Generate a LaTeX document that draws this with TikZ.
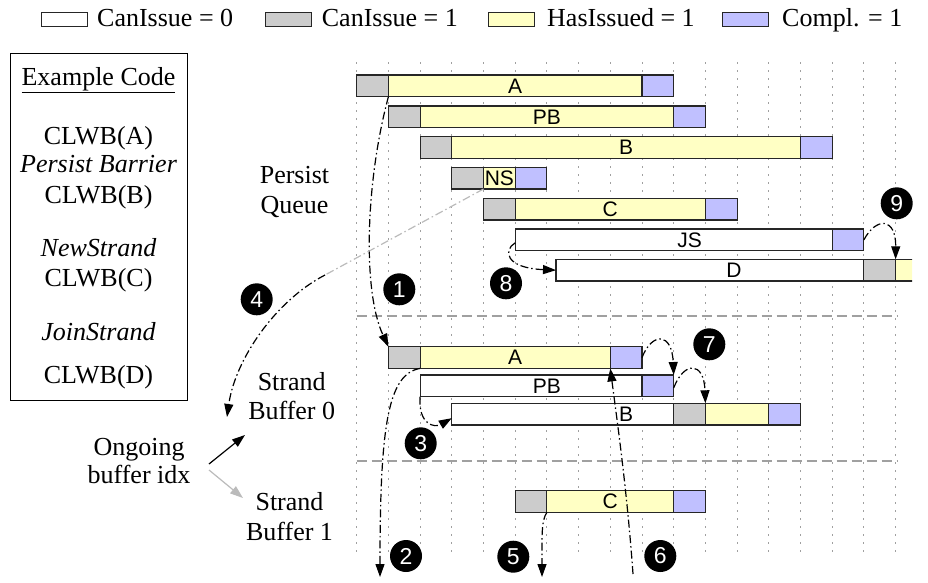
\documentclass[tikz,border=0pt]{standalone}
\usepackage{fontspec}
\setmainfont{Liberation Serif}
\newfontfamily\labelsans{Liberation Sans}
\usetikzlibrary{arrows.meta,calc}

\definecolor{cellgray}{HTML}{CCCCCC}
\definecolor{cellyellow}{HTML}{FFFFC4}
\definecolor{cellblue}{HTML}{C0C0FF}
\definecolor{gridgray}{HTML}{A0A0A0}
\definecolor{pathgray}{HTML}{BBBBBB}

\tikzset{
  cell/.style={draw=black!85, line width=1.1pt, inner sep=0pt, outer sep=0pt,
    minimum height=21.7pt, anchor=north west},
  barlabel/.style={font=\labelsans\fontsize{21}{21}\selectfont, inner sep=0pt},
  serifline/.style={font=\fontsize{26}{29.5}\selectfont, inner sep=0pt, anchor=base},
  badge/.style={circle, fill=black, text=white, minimum size=32pt, inner sep=0pt,
    font=\labelsans\fontsize{23}{23}\selectfont},
  flow/.style={line width=1.2pt, dash pattern=on 8pt off 3pt on 1.5pt off 3pt,
    -{Triangle[length=13pt,width=9pt]}},
  idxarrow/.style={line width=1.2pt, -{Triangle[length=13pt,width=9pt]}},
  legendbox/.style={draw=black!85, line width=1pt, minimum width=46pt,
    minimum height=14pt, inner sep=0pt, outer sep=0pt},
  legendtext/.style={font=\fontsize{26}{26}\selectfont, inner sep=0pt, anchor=base west},
  gridline/.style={gridgray, line width=0.9pt, dash pattern=on 2pt off 6pt},
  separator/.style={gridgray, line width=1.2pt, dash pattern=on 10pt off 5pt},
}

% one cell of a bar: name, first grid index, last grid index, top edge, fill
\newcommand\cellat[5]{%
  \node[cell, fill=#5, minimum width={(#3-#2)*31.7pt}] (#1) at ({356.7+31.7*(#2)}, #4) {};}

\begin{document}
\begin{tikzpicture}[x=1pt, y=-1pt]
\useasboundingbox (0,0) rectangle (928,582);

% legend
\node[legendbox, fill=white]      (lg0) at (64,19.5) {};
\node[legendtext] (lt0) at (97,26) {CanIssue = 0};
\node[legendbox, fill=cellgray]   (lg1) at (288.5,19.5) {};
\node[legendtext] (lt1) at (321.7,26) {CanIssue = 1};
\node[legendbox, fill=cellyellow] (lg2) at (511,19.5) {};
\node[legendtext] (lt2) at (547,26) {HasIssued = 1};
\node[legendbox, fill=cellblue]   (lg3) at (745,19.5) {};
\node[legendtext] (lt3) at (782,26) {Compl. = 1};

% example code box
\node[draw, line width=1.3pt, minimum width=177pt, minimum height=347pt,
      inner sep=0pt, anchor=north west] (codebox) at (10,53) {};
\node[serifline] (c0) at (98.5,85)    {\underline{Example Code}};
\node[serifline] (c1) at (98.5,144.3) {CLWB(A)};
\node[serifline] (c2) at (98.5,172.7) {\itshape Persist Barrier};
\node[serifline] (c3) at (98.5,203.3) {CLWB(B)};
\node[serifline] (c4) at (98.5,256.7) {\itshape NewStrand};
\node[serifline] (c5) at (98.5,286.7) {CLWB(C)};
\node[serifline] (c6) at (98.5,340)   {\itshape JoinStrand};
\node[serifline] (c7) at (98.5,383.3) {CLWB(D)};

% row titles
\node[serifline] (pq1) at (294.5,183)   {Persist};
\node[serifline] (pq2) at (294.5,213)   {Queue};
\node[serifline] (sb01) at (291.7,390)  {Strand};
\node[serifline] (sb02) at (291.7,419)  {Buffer 0};
\node[serifline] (sb11) at (289.5,510.7){Strand};
\node[serifline] (sb12) at (289.5,540)  {Buffer 1};
\node[serifline] (og1) at (139,455)     {Ongoing};
\node[serifline] (og2) at (139,483)     {buffer idx};

% time grid and region separators
\foreach \i in {0,...,17}
  \draw[gridline] ({356.7+31.7*\i},62) -- ({356.7+31.7*\i},555);
\draw[separator] (356.7,316) -- (898,316);
\draw[separator] (356.7,461) -- (898,461);

% persist queue
\cellat{qA1}{0}{1}{75}{cellgray}
\cellat{qA2}{1}{9}{75}{cellyellow}
\cellat{qA3}{9}{10}{75}{cellblue}
\cellat{qP1}{1}{2}{106}{cellgray}
\cellat{qP2}{2}{10}{106}{cellyellow}
\cellat{qP3}{10}{11}{106}{cellblue}
\cellat{qB1}{2}{3}{136.7}{cellgray}
\cellat{qB2}{3}{14}{136.7}{cellyellow}
\cellat{qB3}{14}{15}{136.7}{cellblue}
\cellat{qN1}{3}{4}{167.3}{cellgray}
\cellat{qN2}{4}{5}{167.3}{cellyellow}
\cellat{qN3}{5}{6}{167.3}{cellblue}
\cellat{qC1}{4}{5}{198.3}{cellgray}
\cellat{qC2}{5}{11}{198.3}{cellyellow}
\cellat{qC3}{11}{12}{198.3}{cellblue}
\cellat{qJ1}{5}{15}{229}{white}
\cellat{qJ2}{15}{16}{229}{cellblue}
\cellat{qD1}{6.287}{16}{259.3}{white}
\cellat{qD2}{16}{17}{259.3}{cellgray}
\begin{scope}
  \clip (880,250) rectangle (912,290);
  \cellat{qD3}{17}{18}{259.3}{cellyellow}
\end{scope}

\node[barlabel] (tqA) at ($(qA1.west)!0.5!(qA3.east)$) {A};
\node[barlabel] (tqP) at ($(qP1.west)!0.5!(qP3.east)$) {PB};
\node[barlabel] (tqB) at ($(qB1.west)!0.5!(qB3.east)$) {B};
\node[barlabel] (tqN) at ($(qN1.west)!0.5!(qN3.east)$) {NS};
\node[barlabel] (tqC) at ($(qC1.west)!0.5!(qC3.east)$) {C};
\node[barlabel] (tqJ) at ($(qJ1.west)!0.5!(qJ2.east)$) {JS};
\node[barlabel] (tqD) at (734,270.2) {D};

% strand buffer 0
\cellat{sA1}{1}{2}{346.7}{cellgray}
\cellat{sA2}{2}{8}{346.7}{cellyellow}
\cellat{sA3}{8}{9}{346.7}{cellblue}
\cellat{sP1}{2}{9}{375}{white}
\cellat{sP2}{9}{10}{375}{cellblue}
\cellat{sB1}{3}{10}{403.3}{white}
\cellat{sB2}{10}{11}{403.3}{cellgray}
\cellat{sB3}{11}{13}{403.3}{cellyellow}
\cellat{sB4}{13}{14}{403.3}{cellblue}
% strand buffer 1
\cellat{sC1}{5}{6}{490.7}{cellgray}
\cellat{sC2}{6}{10}{490.7}{cellyellow}
\cellat{sC3}{10}{11}{490.7}{cellblue}

\node[barlabel] (tsA) at ($(sA1.west)!0.5!(sA3.east)$) {A};
\node[barlabel] (tsP) at ($(sP1.west)!0.5!(sP2.east)$) {PB};
\node[barlabel] (tsB) at ($(sB1.west)!0.5!(sB4.east)$) {B};
\node[barlabel] (tsC) at ($(sC1.west)!0.5!(sC3.east)$) {C};

% free ends of the flows
\coordinate (bend4) at (325,275);
\coordinate (end4)  at (227,417);
\coordinate (end2)  at (380,577);
\coordinate (end5)  at (542,577);
\coordinate (start6) at (633,574);
\coordinate (idxfrom1) at (209,464);
\coordinate (idxto1)   at (245,435);
\coordinate (idxfrom2) at (209,470);
\coordinate (idxto2)   at (243,498);

% flows
\draw[flow] (qA1.south east) .. controls (366,180) and (362,290) .. (sA1.north west);
\draw[flow] (sA1.south east) .. controls (388,374) and (380,425) .. (end2);
\draw[flow] (sP1.south west) .. controls (418,425) and (435,428) .. ([yshift=-4pt]sB1.west);
\draw[pathgray, line width=1.2pt, dash pattern=on 8pt off 3pt on 1.5pt off 3pt]
  (qN2.south west) -- (bend4);
\draw[flow] (bend4) .. controls (275,301) and (235,360) .. (end4);
\draw[flow] (sC1.south east) .. controls (541,520) and (542,540) .. (end5);
\draw[flow] (start6) .. controls (627,490) and (617,420) .. (sA2.south east);
\draw[flow] (sA3.east) .. controls (652,332) and (672,332) .. (sP2.north east);
\draw[flow] ([yshift=-2pt]sP2.east) .. controls (684,361) and (704,361) .. (sB3.north west);
\draw[flow] ([yshift=-3pt]qJ1.west) .. controls (503,250) and (505,268) .. (qD1.west);
\draw[flow] (qJ2.east) .. controls (876,217) and (896,217) .. (qD3.north west);

% ongoing buffer index
\draw[idxarrow] (idxfrom1) -- (idxto1);
\draw[idxarrow, pathgray] (idxfrom2) -- (idxto2);

% step badges
\node[badge] (n1) at (399.3,289.3) {1};
\node[badge] (n2) at (406,556)     {2};
\node[badge] (n3) at (420.7,443.3) {3};
\node[badge] (n4) at (256.7,299.3) {4};
\node[badge] (n5) at (513.3,556.7) {5};
\node[badge] (n6) at (660.3,556)   {6};
\node[badge] (n7) at (709.3,344.3) {7};
\node[badge] (n8) at (506,283.3)   {8};
\node[badge] (n9) at (896.7,203.3) {9};
\end{tikzpicture}
\end{document}
